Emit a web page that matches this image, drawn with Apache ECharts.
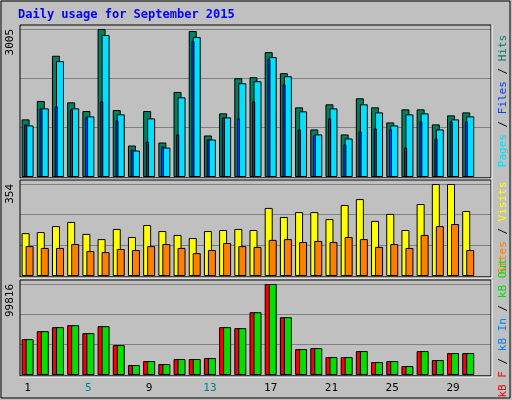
<!DOCTYPE html>
<html><head><meta charset="utf-8">
<script src="https://cdn.jsdelivr.net/npm/echarts@6/dist/echarts.min.js"></script>
<style>html,body{margin:0;padding:0;background:#c0c0c0}#c{width:512px;height:400px}</style>
</head><body><div id="c"></div>
<script>
const days = Array.from({length:31},(_,i)=>String(i+1));
const weekendDays = ['5','6','12','13','19','20','26','27'];
const hits = [1170,1544,2462,1516,1340,3005,1360,639,1340,700,1727,2965,843,1292,2006,2026,2536,2108,1414,966,1476,864,1598,1414,1108,1374,1374,1068,1251,1312];
const files = [1047,1394,2353,1394,1231,2883,1272,537,1190,598,1618,2842,762,1210,1904,1945,2434,2047,1333,864,1394,782,1476,1312,1047,1272,1292,966,1170,1231];
const pages = [1068,1394,1435,1374,1210,1537,1149,558,721,619,864,2761,762,1210,1190,1537,2394,1884,966,843,1190,660,925,986,966,598,1129,782,1129,1129];
const visits = [165,169,192,208,162,142,181,150,196,173,158,146,173,177,181,177,262,227,246,246,219,273,296,212,239,177,277,354,354,250];
const sites = [115,108,108,123,96,92,104,100,115,123,108,88,100,127,115,112,139,142,131,135,131,150,142,112,123,108,158,192,200,100];
const kbF = [39344,48088,52459,54645,45902,53552,32787,10929,15301,12022,17486,17486,18579,52459,51366,68853,99816,63388,28415,29508,19672,19672,26230,14208,15301,9836,26230,16394,24044,24044];
const kbOut = kbF.slice();
const maxes = [3005,354,99816];

const F = 'DejaVu Sans Mono, monospace';
const grids = [{left:20,right:21,top:29,height:148},{left:20,right:21,top:184,height:92},{left:20,right:21,top:284,height:91}];
const xAxes=[], yAxes=[];
grids.forEach((g,i)=>{
  xAxes.push({type:'category',data:days,gridIndex:i,axisLine:{show:false},axisTick:{show:false},
    axisLabel:{show:i===2,margin:8,fontFamily:F,fontSize:11,
      formatter:v=>weekendDays.includes(v)?'{w|'+v+'}':v, color:'#000',rich:{w:{color:'#008080',fontFamily:F,fontSize:11}}}});
  yAxes.push({type:'value',gridIndex:i,min:0,max:maxes[i],interval:maxes[i]/3,
    splitLine:{lineStyle:{color:'#808080',width:1}},axisLine:{show:false},axisTick:{show:false},
    axisLabel:{rotate:90,margin:4,fontFamily:F,fontSize:11,color:'#000',showMinLabel:false,
      formatter:v=>Math.abs(v-maxes[i])<1?String(maxes[i]):'',verticalAlign:'bottom',align:'right'}});
});
// extra hidden axis for pages
xAxes.push({type:'category',data:days,gridIndex:0,show:false});
const bs = (name,data,color,xi,yi,extra)=>Object.assign({type:'bar',name,data,xAxisIndex:xi,yAxisIndex:yi,barWidth:8,barGap:'-50%',
  itemStyle:{color,borderColor:'#000',borderWidth:1},silent:true,animation:false},extra||{});
const series = [
  bs('Hits',hits,'#008060',0,0),
  bs('Files',files,'#00e0ff',0,0,{z:3}),
  bs('Pages',pages,'#0040ff',3,0,{barWidth:3,barGap:'20%',z:4}),
  bs('dummy',[],'#000',3,0,{barWidth:3,barGap:'20%'}),
  bs('Visits',visits,'#ffff00',1,1),
  bs('Sites',sites,'#ff8000',1,1),
  bs('kB F',kbF,'#ff0000',2,2),
  bs('kB Out',kbOut,'#00e000',2,2)
];
const panels=[[20,25,471,153],[20,180,471,97],[20,280,471,96]];
const graphic=[];
graphic.push({type:'rect',shape:{x:1,y:1,width:509,height:397},style:{fill:null,stroke:'#000',lineWidth:1},z:-1});
panels.forEach(p=>{
  graphic.push({type:'rect',shape:{x:p[0],y:p[1],width:p[2],height:p[3]},style:{fill:null,stroke:'#000',lineWidth:1},z:100});
  graphic.push({type:'line',shape:{x1:p[0]+p[2]+1,y1:p[1],x2:p[0]+p[2]+1,y2:p[1]+p[3]+1},style:{stroke:'#fff',lineWidth:1},z:100});
  graphic.push({type:'line',shape:{x1:p[0],y1:p[1]+p[3]+1,x2:p[0]+p[2]+1,y2:p[1]+p[3]+1},style:{stroke:'#fff',lineWidth:1},z:100});
});
const side=(cy,parts)=>({type:'text',x:503,y:cy,rotation:Math.PI/2,
  style:{text:parts.map(p=>'{'+p[1]+'|'+p[0]+'}').join(''),align:'center',verticalAlign:'middle',
  rich:Object.fromEntries(parts.map(p=>[p[1],{fill:p[2],fontFamily:F,fontSize:11}]))},z:100});
graphic.push(side(101,[['Pages','a','#00e0ff'],[' / ','s','#000'],['Files','b','#0040ff'],[' / ','t','#000'],['Hits','c','#008060']]));
graphic.push(side(228,[['Sites','a','#ff8000'],[' / ','s','#000'],['Visits','b','#ffff00']]));
graphic.push(side(328,[['kB F','a','#ff0000'],[' / ','s','#000'],['kB In','b','#0080ff'],[' / ','t','#000'],['kB Out','c','#00e000']]));
graphic.push({type:'text',x:18,y:9,style:{text:'Daily usage for September 2015',fill:'#0000ff',fontFamily:F,fontSize:12,fontWeight:'bold'},z:100});
const chart=echarts.init(document.getElementById('c'));
chart.setOption({backgroundColor:'#c0c0c0',animation:false,grid:grids,xAxis:xAxes,yAxis:yAxes,series,graphic});
</script></body></html>
